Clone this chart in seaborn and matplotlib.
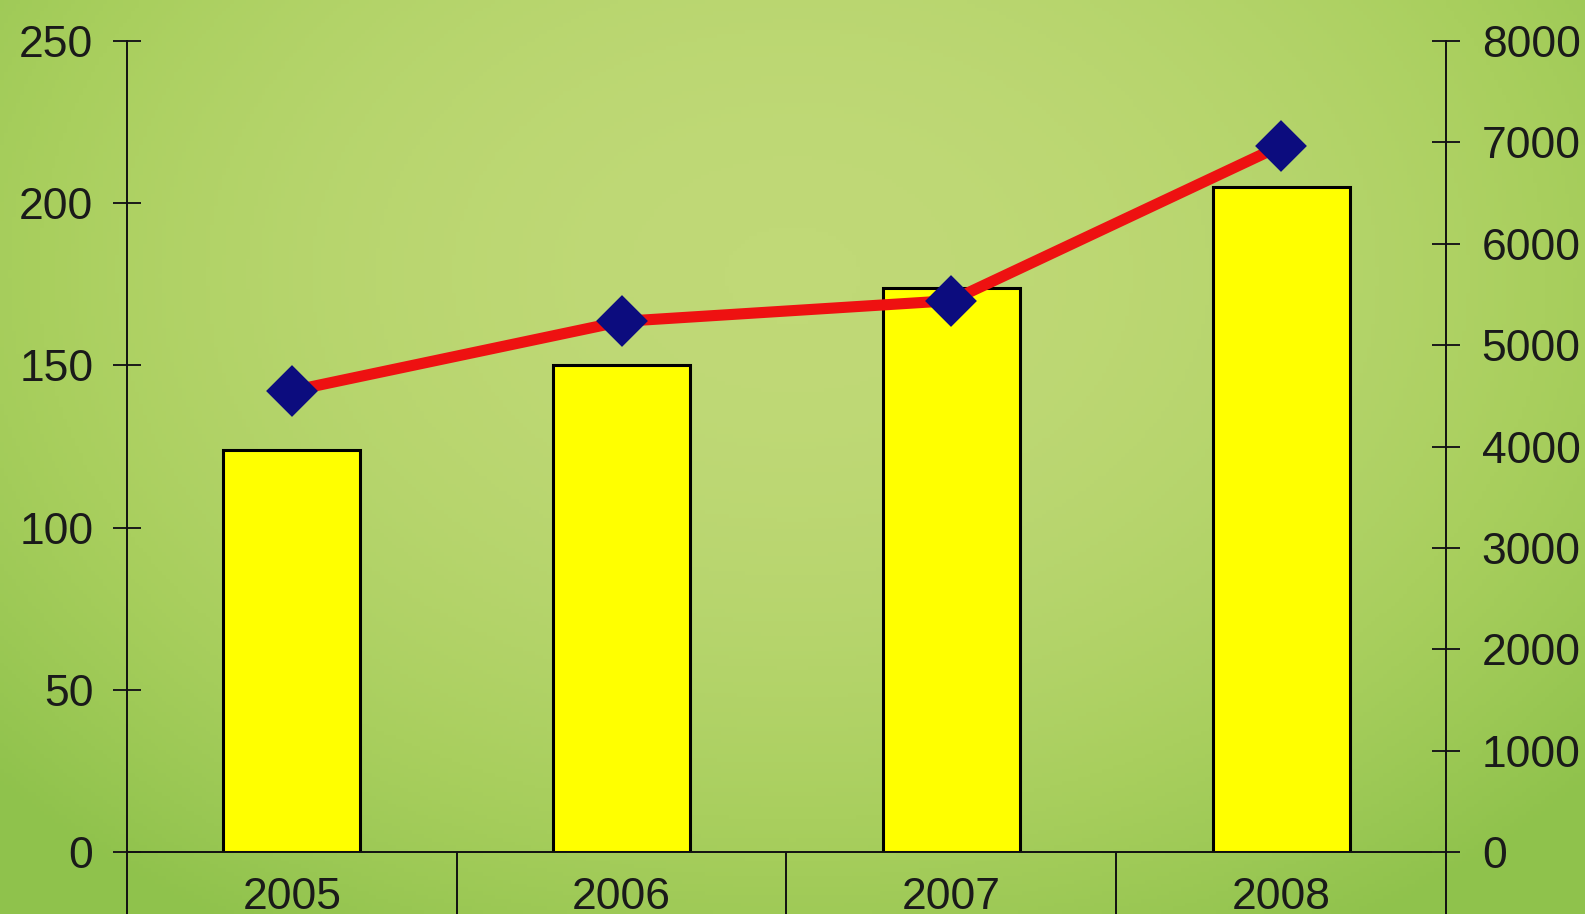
import numpy as np
import pandas as pd
import matplotlib
matplotlib.use('Agg')
import matplotlib.pyplot as plt
from matplotlib.colors import LinearSegmentedColormap
import seaborn as sns

years = ["2005", "2006", "2007", "2008"]
bar_values = [124, 150, 174, 205]
line_values = [4550, 5235, 5440, 6970]
left_ticks = [0, 50, 100, 150, 200, 250]
right_ticks = [0, 1000, 2000, 3000, 4000, 5000, 6000, 7000, 8000]

df = pd.DataFrame({"year": years, "bar": bar_values, "line": line_values})

sns.set_style("white")
plt.rcParams['font.family'] = ['Liberation Sans', 'DejaVu Sans']

fig = plt.figure(figsize=(15.85, 9.14), dpi=100)

# green background (smooth gradient in place of the paper texture)
bg = fig.add_axes([0, 0, 1, 1], zorder=-10)
gx, gy = np.meshgrid(np.linspace(-1, 1, 400), np.linspace(-1, 1, 240))
shade = np.clip(1 - 0.55 * gx ** 2 - 0.35 * (gy + 0.4) ** 2, 0, 1)
cmap = LinearSegmentedColormap.from_list("bg", ["#8fc24c", "#a9cf5e", "#c0d977"])
bg.imshow(shade, cmap=cmap, aspect='auto', extent=[0, 1, 0, 1], vmin=0, vmax=1)
bg.axis('off')

ax = fig.add_axes([0.0801, 0.0678, 0.8322, 0.8872])
ax.patch.set_alpha(0)
sns.barplot(data=df, x="year", y="bar", ax=ax, color="#ffff00", width=0.415,
            edgecolor="black", linewidth=2.2, saturation=1, zorder=2)

ax2 = ax.twinx()
sns.pointplot(data=df, x="year", y="line", ax=ax2, color="#ee1111", markers="D",
              linewidth=8, markersize=20, markerfacecolor="#0c0c7e",
              markeredgecolor="#0c0c7e", zorder=3)

ax.set_xlim(-0.5, 3.5)
ax.set_ylim(0, 250)
ax2.set_ylim(0, 8000)
ax.set_yticks(left_ticks)
ax2.set_yticks(right_ticks)
ax.set_xticks(range(len(years)))
ax.set_xticklabels(years)
ax.set_xticks([-0.5, 0.5, 1.5, 2.5, 3.5], minor=True)

for a in (ax, ax2):
    a.set_xlabel("")
    a.set_ylabel("")
    for s in a.spines.values():
        s.set_visible(False)
        s.set_linewidth(1.4)
        s.set_color("#111111")

ax.spines['left'].set_visible(True)
ax.spines['bottom'].set_visible(True)
ax2.spines['right'].set_visible(True)

ax.tick_params(axis='y', left=True, direction='inout', length=19.5, width=1.4, pad=14.5,
               labelsize=32, colors="#1a1a1a")
ax2.tick_params(axis='y', right=True, direction='inout', length=19.5, width=1.4, pad=16,
                labelsize=32, colors="#1a1a1a")
ax.tick_params(axis='x', which='major', length=0, pad=18, labelsize=32, colors="#1a1a1a")
ax.tick_params(axis='x', which='minor', bottom=True, direction='out', length=46, width=1.4,
               color="#111111")
ax2.tick_params(axis='x', which='both', length=0)

fig.savefig("out.png", dpi=100)
